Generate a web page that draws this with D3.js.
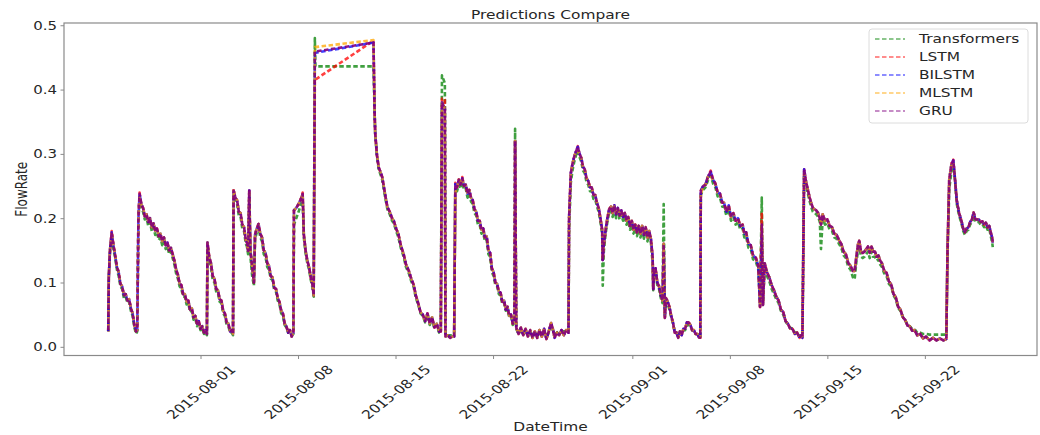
<!DOCTYPE html>
<html>
<head>
<meta charset="utf-8">
<script src="https://cdn.jsdelivr.net/npm/d3@7"></script>
<style>
  html, body { margin: 0; padding: 0; background: #fff; }
  svg text { font-family: "DejaVu Sans", sans-serif; }
</style>
</head>
<body>
<svg id="chart" width="1040" height="435"></svg>
<script>
// readings, hours since 2015-07-25 00:00 (one list of times shared by all models)
const hours = [
  9,10,12,15,18,21,24,27,30,33,36,39,42,45,48,51,54,57,59,
  61,63,66,69,72,75,78,81,84,87,90,93,96,99,102,105,108,111,114,117,120,123,126,129,132,135,138,141,144,147,150,153,156,159,162,165,168,171,174,177,179,
  180,183,186,189,192,195,198,201,204,207,210,213,216,219,222,224,
  225,228,231,234,237,240,243,246,248,250,252,254,257,260,
  262,265,268,271,274,277,280,283,286,289,292,295,298,301,304,307,310,313,316,319,322,325,328,
  329,333,337,341,344,346,349,352,355,358,361,363,365,366,466,
  468,469,472,475,478,481,484,487,490,494,498,501,505,509,513,518,522,527,531,535,539,543,547,551,555,559,563,567,571,575,579,582,584,589,590,594,598,602,605,
  607,610,613,616,619,622,625,628,631,634,637,640,643,646,649,652,655,658,661,664,667,670,673,676,679,682,685,688,691,694,697,700,703,706,709,710,712,
  716,720,724,728,732,736,740,744,748,752,756,760,764,768,772,775,778,782,786,790,794,798,802,
  803,806,809,812,815,818,821,824,827,830,833,836,839,842,845,848,851,854,857,860,861,863,
  866,869,872,875,878,881,884,887,890,893,896,899,902,905,908,911,914,917,920,923,926,929,932,935,938,941,944,
  947,948,949,952,955,958,961,964,966,968,970,973,976,979,982,985,988,991,994,997,1000,1003,1006,1009,1012,1015,1018,1021,1024,1027,1029,
  1030,1034,1038,1042,1047,1051,1055,1059,1063,1067,1070,1074,1078,1082,1086,1090,1094,1098,1102,1105,1108,1112,1116,1120,1125,1129,1132,1135,1137,1140,1144,1148,1152,1156,1160,1164,1168,1172,1176,1180,1184,1188,1192,1196,1200,1203,1205,
  1208,1211,1214,1217,1220,1223,1226,1229,1232,1235,1237,1240,1244,1248,1252,1256,1260,1264,1268,1272,1276,1280,1284,1288,1292,1295,1298,1301,1303,1306,1309,1312,1315,1318,1321,1324,1327,1330,1333,1336,1339,1342,1346,1350,1354,1358,1362,1366,1370,1374,1378,1382,1386,1390,1394,1398,1403,1408,1413,1418,1424,1430,1436,1442,1448,1453,
  1455,1458,1462,1465,1468,1471,1475,1479,1482,1485,1488,1491,1494,1497,1500,1503,1506,1509,1512,1515,1518,1521,1524,1527,1530,1532,1533
];

// null = no reading from that model at that time
const transformers = [
  .024,.110,.146,.172,.152,.138,.120,.110,.094,.090,.076,.078,.068,.070,.056,.048,.030,.020,.024,
  .196,.230,.216,.210,.198,.200,.188,.194,.180,.186,.174,.178,.166,.170,.158,.164,.152,.156,.144,.148,.138,.128,.114,.106,.094,.090,.078,.078,.066,.068,.054,.056,.042,.044,.032,.036,.026,.028,.020,.022,.018,
  .156,.134,.124,.104,.100,.086,.084,.070,.068,.052,.048,.034,.032,.022,.022,.018,
  .236,.226,.222,.204,.202,.184,.180,.160,.156,.144,.236,.140,.110,.095,
  .168,.178,.186,.170,.164,.144,.140,.124,.120,.106,.104,.088,.086,.072,.066,.052,.048,.034,.030,.022,.024,.018,.020,
  .190,.200,.210,.222,.227,.170,.146,.130,.120,.104,.092,.078,.480,.436,.436,
  .363,.330,.296,.276,.268,.260,.244,.228,.214,.206,.196,.192,.180,.170,.154,.140,.124,.114,.102,.094,.076,.066,.052,.048,.038,.050,.034,.044,.028,.034,.022,.022,.422,.410,.018,.018,.018,.018,.018,
  .245,.242,.252,.246,.256,.244,.246,.232,.238,.226,.222,.208,.204,.190,.190,.176,.178,.164,.166,.144,.140,.116,.110,.096,.094,.082,.080,.066,.068,.056,.058,.046,.048,.034,.038,.339,.028,
  .020,.026,.020,.024,.018,.024,.016,.022,.016,.024,.018,.024,.016,.022,.032,.026,.018,.022,.024,.024,.024,.024,.024,
  .180,.255,.275,.288,.298,.305,.295,.288,.274,.270,.256,.252,.242,.242,.230,.230,.218,.210,.194,.176,.095,.150,
  .176,.194,.208,.212,.202,.214,.200,.210,.198,.206,.196,.202,.190,.196,.182,.190,.176,.184,.172,.182,.170,.182,.168,.180,.164,.174,.162,
  .130,.088,.108,.116,.096,.090,.076,.068,.222,.050,.072,.066,.058,.046,.036,.024,.022,.018,.024,.020,.026,.026,.034,.034,.032,.026,.024,.020,.020,.016,.016,
  .236,.244,.248,.258,.266,.254,.248,.234,.232,.218,.218,.204,.214,.196,.202,.190,.194,.182,.184,.170,.172,.154,.152,.136,.132,.120,.070,.232,.068,.124,.110,.102,.090,.082,.074,.068,.056,.050,.040,.034,.030,.028,.022,.022,.018,.018,.016,
  .270,.252,.240,.228,.218,.210,.208,.206,.202,.194,.152,.198,.190,.192,.182,.180,.170,.168,.160,.154,.142,.138,.124,.120,.108,.105,.132,.150,.155,.140,.138,.140,.144,.148,.138,.148,.140,.140,.134,.136,.128,.124,.114,.110,.098,.094,.080,.074,.060,.056,.046,.042,.034,.032,.028,.028,.022,.022,.020,.020,.019,.019,.019,.019,.019,.019,
  .140,.245,.275,.285,.258,.222,.204,.192,.180,.174,.180,.182,.190,.194,.204,.194,.194,.194,.190,.191,.186,.189,.182,.184,.170,.162,.155
];

const lstm = [
  .024,.108,.150,.180,.158,.142,.124,.116,.098,.094,.080,.082,.072,.074,.060,.052,.034,.024,.026,
  .200,.240,.222,.216,.203,.206,.194,.200,.186,.192,.180,.184,.172,.176,.164,.170,.158,.162,.150,.154,.144,.134,.120,.112,.098,.096,.082,.082,.070,.072,.058,.060,.046,.048,.036,.040,.028,.032,.022,.026,.020,
  .162,.140,.130,.110,.106,.090,.088,.074,.072,.056,.052,.038,.036,.024,.026,.020,
  .245,.232,.228,.210,.208,.190,.186,.166,.162,.149,.245,.150,.125,.100,
  .175,.184,.191,.176,.170,.150,.146,.130,.126,.110,.108,.092,.090,.076,.070,.056,.052,.036,.032,.022,.026,.016,.022,
  .212,.216,.222,.230,.240,.175,.150,.134,.124,.108,.096,.080,.415,null,.476,
  .363,.332,.298,.279,.272,.264,.248,.232,.217,.210,.200,.196,.184,.175,.158,.144,.128,.118,.106,.097,.080,.068,.054,.050,.040,.052,.036,.046,.030,.036,.024,.024,.386,.384,.016,.018,.014,.016,.016,
  .255,.248,.260,.252,.264,.250,.252,.238,.244,.232,.228,.214,.210,.196,.196,.182,.184,.170,.172,.150,.146,.122,.116,.100,.098,.086,.084,.070,.072,.058,.062,.048,.050,.036,.040,.322,.030,
  .020,.030,.018,.028,.016,.026,.014,.024,.014,.026,.016,.028,.012,.024,.037,.028,.014,.022,.018,.026,.018,.026,.022,
  .200,.270,.285,.296,.304,.312,.300,.294,.280,.276,.262,.258,.248,.248,.236,.236,.224,.216,.200,.182,.135,.160,
  .182,.200,.214,.218,.208,.220,.206,.216,.204,.212,.202,.208,.196,.202,.188,.196,.182,.190,.178,.188,.176,.188,.174,.186,.170,.180,.168,
  .139,.090,.113,.122,.100,.094,.080,.072,.160,.045,.076,.070,.062,.048,.038,.022,.022,.014,.024,.018,.028,.028,.038,.038,.034,.026,.026,.020,.020,.014,.014,
  .243,.250,.252,.264,.274,.260,.254,.240,.238,.224,.224,.210,.220,.202,.208,.196,.200,.188,.190,.176,.178,.160,.158,.142,.138,.126,.062,.209,.065,.130,.116,.108,.096,.088,.078,.072,.058,.054,.040,.036,.028,.028,.020,.022,.014,.018,.014,
  .276,.258,.246,.234,.224,.216,.214,.212,.208,.200,.190,.206,.196,.198,.188,.186,.176,.174,.166,.160,.148,.144,.130,.126,.118,.118,.140,.160,.165,.148,.146,.148,.152,.156,.146,.156,.148,.148,.140,.142,.134,.130,.118,.115,.102,.097,.082,.077,.062,.058,.046,.042,.033,.032,.025,.026,.018,.020,.013,.016,.010,.014,.010,.013,.010,.012,
  .150,.260,.285,.291,.260,.227,.208,.196,.184,.178,.184,.186,.194,.198,.209,.198,.198,.198,.194,.195,.190,.193,.186,.188,.176,.170,.162
];

const bilstm = [
  .024,.108,.150,.178,.158,.142,.124,.116,.098,.094,.080,.082,.072,.074,.060,.052,.034,.024,.026,
  .200,.238,.222,.216,.203,.206,.194,.200,.186,.192,.180,.184,.172,.176,.164,.170,.158,.162,.150,.154,.144,.134,.120,.112,.098,.096,.082,.082,.070,.072,.058,.060,.046,.048,.036,.040,.028,.032,.022,.026,.020,
  .162,.140,.130,.110,.106,.090,.088,.074,.072,.056,.052,.038,.036,.024,.026,.020,
  .243,.232,.228,.210,.208,.190,.186,.166,.162,.149,.243,.150,.125,.100,
  .175,.184,.191,.176,.170,.150,.146,.130,.126,.110,.108,.092,.090,.076,.070,.056,.052,.036,.032,.022,.026,.016,.022,
  .212,.216,.222,.230,.238,.175,.150,.134,.124,.108,.096,.080,.457,null,.473,
  .363,.332,.298,.279,.272,.264,.248,.232,.217,.210,.200,.196,.184,.175,.158,.144,.128,.118,.106,.097,.080,.068,.054,.050,.040,.052,.036,.046,.030,.036,.024,.024,.380,.370,.016,.018,.014,.016,.016,
  .253,.248,.260,.252,.262,.250,.252,.238,.244,.232,.228,.214,.210,.196,.196,.182,.184,.170,.172,.150,.146,.122,.116,.100,.098,.086,.084,.070,.072,.058,.062,.048,.050,.036,.040,.320,.030,
  .020,.030,.018,.028,.016,.026,.014,.024,.014,.026,.016,.028,.012,.024,.037,.028,.014,.022,.018,.026,.018,.026,.022,
  .200,.270,.285,.296,.304,.311,.300,.294,.280,.276,.262,.258,.248,.248,.236,.236,.224,.216,.200,.182,.135,.160,
  .182,.200,.214,.218,.208,.220,.206,.216,.204,.212,.202,.208,.196,.202,.188,.196,.182,.190,.178,.188,.176,.188,.174,.186,.170,.180,.168,
  .139,.090,.113,.122,.100,.094,.080,.072,.160,.045,.076,.070,.062,.048,.038,.022,.022,.014,.024,.018,.028,.028,.038,.038,.034,.026,.026,.020,.020,.014,.014,
  .243,.250,.252,.264,.272,.260,.254,.240,.238,.224,.224,.210,.220,.202,.208,.196,.200,.188,.190,.176,.178,.160,.158,.142,.138,.126,.062,.175,.065,.130,.116,.108,.096,.088,.078,.072,.058,.054,.040,.036,.028,.028,.020,.022,.014,.018,.014,
  .276,.258,.246,.234,.224,.216,.214,.212,.208,.200,.190,.206,.196,.198,.188,.186,.176,.174,.166,.160,.148,.144,.130,.126,.118,.118,.140,.160,.165,.148,.146,.148,.152,.156,.146,.156,.148,.148,.140,.142,.134,.130,.118,.115,.102,.097,.082,.077,.062,.058,.046,.042,.033,.032,.025,.026,.018,.020,.013,.016,.010,.014,.010,.013,.010,.012,
  .150,.260,.285,.290,.260,.227,.208,.196,.184,.178,.184,.186,.194,.198,.209,.198,.198,.198,.194,.195,.190,.193,.186,.188,.176,.170,.162
];

const mlstm = [
  .024,.108,.150,.178,.158,.142,.124,.116,.098,.094,.080,.082,.072,.074,.060,.052,.034,.024,.026,
  .200,.232,.222,.216,.203,.206,.194,.200,.186,.192,.180,.184,.172,.176,.164,.170,.158,.162,.150,.154,.144,.134,.120,.112,.098,.096,.082,.082,.070,.072,.058,.060,.046,.048,.036,.040,.028,.032,.022,.026,.020,
  .162,.140,.130,.110,.106,.090,.088,.074,.072,.056,.052,.038,.036,.024,.026,.020,
  .243,.232,.228,.210,.208,.190,.186,.166,.162,.149,.243,.150,.125,.100,
  .175,.184,.191,.176,.170,.150,.146,.130,.126,.110,.108,.092,.090,.076,.070,.056,.052,.036,.032,.022,.026,.016,.022,
  .212,.216,.222,.230,.238,.175,.150,.134,.124,.108,.096,.080,.466,null,.477,
  .363,.332,.298,.279,.272,.264,.248,.232,.217,.210,.200,.196,.184,.175,.158,.144,.128,.118,.106,.097,.080,.068,.054,.050,.040,.052,.036,.046,.030,.036,.024,.024,.380,.370,.016,.018,.014,.016,.016,
  .240,.248,.260,.252,.262,.250,.252,.238,.244,.232,.228,.214,.210,.196,.196,.182,.184,.170,.172,.150,.146,.122,.116,.100,.098,.086,.084,.070,.072,.058,.062,.048,.050,.036,.040,.320,.030,
  .020,.030,.018,.028,.016,.026,.014,.024,.014,.026,.016,.028,.012,.024,.037,.028,.014,.022,.018,.026,.018,.026,.022,
  .200,.270,.285,.296,.304,.305,.300,.294,.280,.276,.262,.258,.248,.248,.236,.236,.224,.216,.200,.182,.135,.160,
  .182,.200,.214,.218,.208,.220,.206,.216,.204,.212,.202,.208,.196,.202,.188,.196,.182,.190,.178,.188,.176,.188,.174,.186,.170,.180,.168,
  .139,.090,.113,.122,.100,.094,.080,.072,.160,.045,.076,.070,.062,.048,.038,.022,.022,.014,.024,.018,.028,.028,.038,.038,.034,.026,.026,.020,.020,.014,.014,
  .236,.250,.252,.264,.266,.260,.254,.240,.238,.224,.224,.210,.220,.202,.208,.196,.200,.188,.190,.176,.178,.160,.158,.142,.138,.126,.062,.190,.065,.130,.116,.108,.096,.088,.078,.072,.058,.054,.040,.036,.028,.028,.020,.022,.014,.018,.014,
  .270,.258,.246,.234,.224,.216,.214,.212,.208,.200,.190,.206,.196,.198,.188,.186,.176,.174,.166,.160,.148,.144,.130,.126,.118,.118,.140,.160,.165,.148,.146,.148,.152,.156,.146,.156,.148,.148,.140,.142,.134,.130,.118,.115,.102,.097,.082,.077,.062,.058,.046,.042,.033,.032,.025,.026,.018,.020,.013,.016,.010,.014,.010,.013,.010,.012,
  .150,.260,.285,.284,.260,.227,.208,.196,.184,.178,.184,.186,.194,.198,.209,.198,.198,.198,.194,.195,.190,.193,.186,.188,.176,.170,.162
];

const gru = [
  .024,.108,.150,.178,.158,.142,.124,.116,.098,.094,.080,.082,.072,.074,.060,.052,.034,.024,.026,
  .200,.238,.222,.216,.203,.206,.194,.200,.186,.192,.180,.184,.172,.176,.164,.170,.158,.162,.150,.154,.144,.134,.120,.112,.098,.096,.082,.082,.070,.072,.058,.060,.046,.048,.036,.040,.028,.032,.022,.026,.020,
  .162,.140,.130,.110,.106,.090,.088,.074,.072,.056,.052,.038,.036,.024,.026,.020,
  .243,.232,.228,.210,.208,.190,.186,.166,.162,.149,.243,.150,.125,.100,
  .175,.184,.191,.176,.170,.150,.146,.130,.126,.110,.108,.092,.090,.076,.070,.056,.052,.036,.032,.022,.026,.016,.022,
  .212,.216,.222,.230,.238,.175,.150,.134,.124,.108,.096,.080,.459,null,.473,
  .363,.332,.298,.279,.272,.264,.248,.232,.217,.210,.200,.196,.184,.175,.158,.144,.128,.118,.106,.097,.080,.068,.054,.050,.040,.052,.036,.046,.030,.036,.024,.024,.380,.370,.016,.018,.014,.016,.016,
  .253,.248,.260,.252,.262,.250,.252,.238,.244,.232,.228,.214,.210,.196,.196,.182,.184,.170,.172,.150,.146,.122,.116,.100,.098,.086,.084,.070,.072,.058,.062,.048,.050,.036,.040,.320,.030,
  .020,.030,.018,.028,.016,.026,.014,.024,.014,.026,.016,.028,.012,.024,.037,.028,.014,.022,.018,.026,.018,.026,.022,
  .200,.270,.285,.296,.304,.311,.300,.294,.280,.276,.262,.258,.248,.248,.236,.236,.224,.216,.200,.182,.135,.160,
  .182,.200,.214,.218,.208,.220,.206,.216,.204,.212,.202,.208,.196,.202,.188,.196,.182,.190,.178,.188,.176,.188,.174,.186,.170,.180,.168,
  .139,.090,.113,.122,.100,.094,.080,.072,.160,.045,.076,.070,.062,.048,.038,.022,.022,.014,.024,.018,.028,.028,.038,.038,.034,.026,.026,.020,.020,.014,.014,
  .243,.250,.252,.264,.272,.260,.254,.240,.238,.224,.224,.210,.220,.202,.208,.196,.200,.188,.190,.176,.178,.160,.158,.142,.138,.126,.062,.190,.065,.130,.116,.108,.096,.088,.078,.072,.058,.054,.040,.036,.028,.028,.020,.022,.014,.018,.014,
  .276,.258,.246,.234,.224,.216,.214,.212,.208,.200,.190,.206,.196,.198,.188,.186,.176,.174,.166,.160,.148,.144,.130,.126,.118,.118,.140,.160,.165,.148,.146,.148,.152,.156,.146,.156,.148,.148,.140,.142,.134,.130,.118,.115,.102,.097,.082,.077,.062,.058,.046,.042,.033,.032,.025,.026,.018,.020,.013,.016,.010,.014,.010,.013,.010,.012,
  .150,.260,.285,.290,.260,.227,.208,.196,.184,.178,.184,.186,.194,.198,.209,.198,.198,.198,.194,.195,.190,.193,.186,.188,.176,.170,.162
];

const modelNames = ["Transformers", "LSTM", "BILSTM", "MLSTM", "GRU"];
const xTickLabels = ["2015-08-01", "2015-08-08", "2015-08-15", "2015-08-22", "2015-09-01", "2015-09-08", "2015-09-15", "2015-09-22"];
const yTickValues = [0, 0.1, 0.2, 0.3, 0.4, 0.5];

(() => {
    const start = new Date(2015, 6, 25);
    const series = [transformers, lstm, bilstm, mlstm, gru];
    const colors = ["#008000", "#ff0000", "#0000ff", "#ffa500", "#800080"];
    const opacities = [0.75, 0.75, 0.75, 0.75, 0.9];
    const textColor = "#262626";
    const spineColor = "#8a8a8a";
    const squash = 0.78; // the source image is a bit flattened vertically
    const fontSize = "15.4px";

    const margin = {"top": 23, "right": 3, "bottom": 79.5, "left": 64},
        width = 1040 - margin.left - margin.right,
        height = 435 - margin.top - margin.bottom;

    const svg = d3.select("#chart");
    const g = svg.append("g")
        .attr("transform", `translate(${margin.left}, ${margin.top})`);

    const times = hours.map(h => d3.timeHour.offset(start, h));

    // matplotlib style 5% margins on both axes
    const tExt = d3.extent(times);
    const tPad = (tExt[1] - tExt[0]) * 0.05;
    const x = d3.scaleTime()
        .domain([new Date(+tExt[0] - tPad), new Date(+tExt[1] + tPad)])
        .range([0, width]);
    const allValues = d3.merge(series).filter(v => v != null);
    const yExt = d3.extent(allValues);
    const yPad = (yExt[1] - yExt[0]) * 0.05;
    const y = d3.scaleLinear()
        .domain([yExt[0] - yPad, yExt[1] + yPad])
        .range([height, 0]);

    const line = d3.line().x(d => x(d.t)).y(d => y(d.v));

    // lines, GRU drawn last so it sits on top
    series.forEach((values, i) => {
        const pts = times.map((t, j) => ({t: t, v: values[j]}))
            .filter(d => d.v != null && d.v !== undefined);
        g.append("path")
            .datum(pts)
            .attr("fill", "none")
            .attr("stroke", colors[i])
            .attr("stroke-opacity", opacities[i])
            .attr("stroke-width", 2.6)
            .attr("stroke-linejoin", "round")
            .attr("stroke-dasharray", "4.5 2.5")
            .attr("stroke-dashoffset", i * 1.4)
            .attr("d", line);
    });

    // x axis
    const parseDay = d3.timeParse("%Y-%m-%d");
    const xAxis = d3.axisBottom(x)
        .tickValues(xTickLabels.map(parseDay))
        .tickFormat(d3.timeFormat("%Y-%m-%d"))
        .tickSize(3.5)
        .tickSizeOuter(0);
    const gx = g.append("g")
        .attr("transform", `translate(0, ${height})`)
        .call(xAxis);
    gx.select(".domain").remove();
    gx.selectAll(".tick line").attr("stroke", spineColor);
    gx.selectAll(".tick text")
        .attr("y", null)
        .attr("dy", null)
        .attr("fill", textColor)
        .attr("text-anchor", "middle")
        .attr("dominant-baseline", "central")
        .style("font-size", fontSize)
        .style("font-family", "'DejaVu Sans', sans-serif")
        .attr("transform", `translate(0, 36.5) scale(1, ${squash}) rotate(-45)`);

    // y axis
    const yAxis = d3.axisLeft(y)
        .tickValues(yTickValues)
        .tickFormat(d3.format(".1f"))
        .tickSize(3.5)
        .tickSizeOuter(0);
    const gy = g.append("g").call(yAxis);
    gy.select(".domain").remove();
    gy.selectAll(".tick line").attr("stroke", spineColor);
    gy.selectAll(".tick text")
        .attr("x", null)
        .attr("dy", null)
        .attr("fill", textColor)
        .attr("text-anchor", "end")
        .attr("dominant-baseline", "central")
        .style("font-size", "15px")
        .style("font-family", "'DejaVu Sans', sans-serif")
        .attr("transform", `translate(-7, 0) scale(1, ${squash})`);

    // frame
    g.append("rect")
        .attr("width", width)
        .attr("height", height)
        .attr("fill", "none")
        .attr("stroke", spineColor)
        .attr("stroke-width", 1.2);

    // title and axis labels
    const label = (txt, px, py, rot) => svg.append("text")
        .attr("fill", textColor)
        .attr("text-anchor", "middle")
        .attr("dominant-baseline", "central")
        .style("font-size", fontSize)
        .attr("transform", `translate(${px}, ${py}) scale(1, ${squash})` + (rot ? ` rotate(${rot})` : ""))
        .text(txt);
    label("Predictions Compare", margin.left + width / 2, 15);
    label("DateTime", margin.left + width / 2, 427);
    label("FlowRate", 21, margin.top + height / 2, -90);

    // legend
    const lg = svg.append("g").attr("transform", "translate(869, 29)");
    lg.append("rect")
        .attr("width", 159)
        .attr("height", 94)
        .attr("rx", 3)
        .attr("fill", "#fff")
        .attr("fill-opacity", 0.8)
        .attr("stroke", "#dcdcdc");
    modelNames.forEach((name, i) => {
        const row = lg.append("g").attr("transform", `translate(0, ${10 + i * 18})`);
        row.append("line")
            .attr("x1", 6).attr("x2", 36)
            .attr("stroke", colors[i])
            .attr("stroke-opacity", 0.6)
            .attr("stroke-width", 1.5)
            .attr("stroke-dasharray", "4.5 2.5");
        row.append("text")
            .attr("fill", textColor)
            .attr("dominant-baseline", "central")
            .style("font-size", fontSize)
            .attr("transform", `translate(50, 0) scale(1, ${squash})`)
            .text(name);
    });
})();
</script>
</body>
</html>
